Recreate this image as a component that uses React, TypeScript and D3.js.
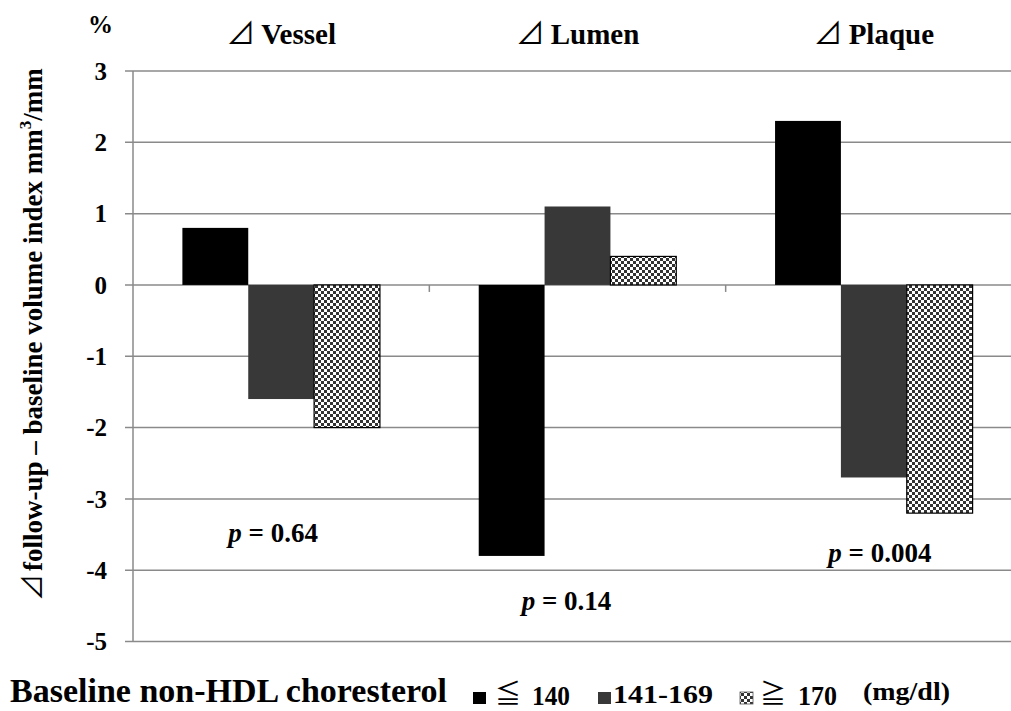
import React from 'react';
import * as d3 from 'd3';

const categories = ['Vessel', 'Lumen', 'Plaque'];
const groups = ['≦', '141-169', '≧'];
const groupNums = ['140', '', '170'];
const values = [
  [0.8, -1.6, -2.0],
  [-3.8, 1.1, 0.4],
  [2.3, -2.7, -3.2],
];
const yTicks = [3, 2, 1, 0, -1, -2, -3, -4, -5];
const pLabels = ['0.64', '0.14', '0.004'];
const pLevels = [-3.6, -4.56, -3.89];
const pOffsets = [-8, -11, 6];

const W = 1011;
const H = 711;
const FONT = '"Liberation Serif", "Times New Roman", serif';
const CJK = '"Noto Sans CJK JP", "DejaVu Sans", sans-serif';
const fills = ['#000000', '#383838', 'url(#checker)'];

const App = () => {
  const x = d3.scaleBand<string>().domain(categories).range([133, 1022]);
  const inner = d3.scaleBand<number>().domain([0, 1, 2]).range([0, x.bandwidth()]).paddingInner(0).paddingOuter(0.75);
  const y = d3.scaleLinear().domain([-5, 3]).range([641.5, 71]);
  const bw = inner.bandwidth();

  return (
    <svg width={W} height={H} style={{ position: 'absolute', left: 0, top: 0, background: '#fff', fontFamily: FONT, fontWeight: 'bold' }}>
      <defs>
        <pattern id="checker" width={6} height={6} patternUnits="userSpaceOnUse">
          <rect width={6} height={6} fill="#fff" />
          <rect width={3} height={3} fill="#333" />
          <rect x={3} y={3} width={3} height={3} fill="#333" />
        </pattern>
      </defs>

      {/* gridlines */}
      {yTicks.map(t => (
        <line key={t} x1={125} x2={W} y1={y(t)} y2={y(t)} stroke="#8a8a8a" strokeWidth={1.5} />
      ))}
      <line x1={133} x2={133} y1={y(3)} y2={y(-5)} stroke="#8a8a8a" strokeWidth={1.5} />
      {categories.slice(1).map(c => (
        <line key={c} x1={x(c)} x2={x(c)} y1={y(0)} y2={y(0) + 7} stroke="#8a8a8a" strokeWidth={1.5} />
      ))}

      {/* y tick labels */}
      {yTicks.map(t => (
        <text key={t} x={107} y={y(t)} dy="0.35em" textAnchor="end" fontSize={25}>{t}</text>
      ))}
      <text x={113} y={33} textAnchor="end" fontSize={25}>%</text>

      {/* bars */}
      {categories.map((c, ci) => values[ci].map((v, gi) => (
        <rect
          key={c + gi}
          x={(x(c) as number) + (inner(gi) as number)}
          y={y(Math.max(0, v))}
          width={bw}
          height={Math.abs(y(v) - y(0))}
          fill={fills[gi]}
          stroke={gi === 2 ? '#000' : 'none'}
          strokeWidth={gi === 2 ? 1.2 : 0}
        />
      )))}

      {/* titles */}
      {categories.map(c => (
        <text key={c} x={(x(c) as number) + x.bandwidth() / 2} y={44} textAnchor="middle" fontSize={29}>
          <tspan style={{ fontFamily: CJK, fontWeight: 'normal' }}>⊿</tspan><tspan dx={6}>{c}</tspan>
        </text>
      ))}

      {/* p values */}
      {categories.map((c, ci) => (
        <text key={c} x={(x(c) as number) + x.bandwidth() / 2 + pOffsets[ci]} y={y(pLevels[ci])} textAnchor="middle" fontSize={27}>
          <tspan fontStyle="italic">p</tspan> = {pLabels[ci]}
        </text>
      ))}

      {/* y axis title */}
      <text transform="translate(42,601) rotate(-90)" textAnchor="start" fontSize={27}>
        <tspan style={{ fontFamily: CJK, fontWeight: 'normal' }}>⊿</tspan><tspan dx={3}>follow-up – baseline volume index mm</tspan><tspan fontSize={17} dy={-11}>3</tspan><tspan dy={11}>/mm</tspan>
      </text>

      {/* legend */}
      <text x={10} y={702} fontSize={33} textLength={437} lengthAdjust="spacingAndGlyphs">Baseline non-HDL choresterol</text>
      <rect x={473} y={692} width={13} height={12} fill={fills[0]} />
      <text x={495} y={703} fontSize={26} style={{ fontFamily: CJK, fontWeight: 'normal' }}>{groups[0]}</text>
      <text x={532} y={705} fontSize={27} textLength={38} lengthAdjust="spacingAndGlyphs">{groupNums[0]}</text>
      <rect x={598} y={692} width={13} height={12} fill={fills[1]} />
      <text x={613} y={703} fontSize={25} textLength={100} lengthAdjust="spacingAndGlyphs">{groups[1]}</text>
      <rect x={740} y={692} width={13} height={12} fill={fills[2]} stroke="#555" strokeWidth={0.8} />
      <text x={760} y={703} fontSize={26} style={{ fontFamily: CJK, fontWeight: 'normal' }}>{groups[2]}</text>
      <text x={798} y={705} fontSize={27} textLength={39} lengthAdjust="spacingAndGlyphs">{groupNums[2]}</text>
      <text x={863} y={700} fontSize={26} textLength={87} lengthAdjust="spacingAndGlyphs">(mg/dl)</text>
    </svg>
  );
};

export default App;
